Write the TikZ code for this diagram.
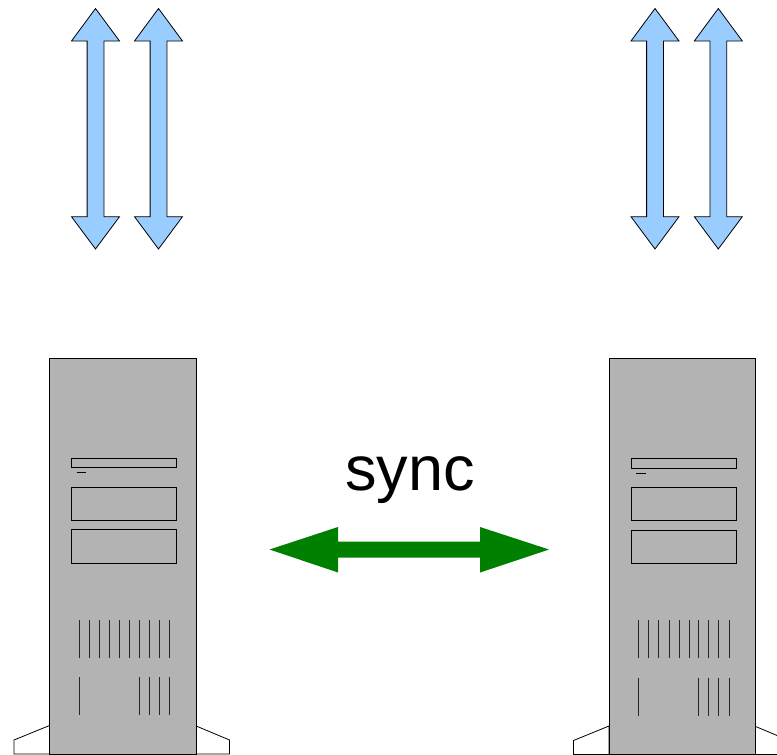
\documentclass[tikz,border=0pt]{standalone}
\usepackage{fontspec}
\setmainfont{Liberation Sans}
\definecolor{arrowblue}{HTML}{99CCFF}
\definecolor{casegray}{HTML}{B3B3B3}
\definecolor{syncgreen}{HTML}{008000}
\tikzset{
  blueline/.style={draw=black,fill=arrowblue,line width=0.8pt,line join=miter},
  caseline/.style={draw=black,line width=0.8pt},
  casebody/.style={caseline,fill=casegray},
  footline/.style={caseline,fill=white},
  vent/.style={draw=black!85,line width=1pt},
  synclabel/.style={anchor=base,inner sep=0pt,font=\fontsize{63}{70}\selectfont}
}
\begin{document}
\begin{tikzpicture}[x=1pt,y=-1pt]
     % Page size
     \clip (0,0) rectangle (777,755);
     % Definitions
     \def\headw{24}
     \def\shaftw{8.4}
     % Up and down arrows
     \foreach \x in {95.5,158.5,655,718.3} {
      \draw[blueline] (\x,8.5) -- (\x+\headw,41) -- (\x+\shaftw,41) -- (\x+\shaftw,216.7)
       -- (\x+\headw,216.7) -- (\x,249) -- (\x-\headw,216.7) -- (\x-\shaftw,216.7)
       -- (\x-\shaftw,41) -- (\x-\headw,41) -- cycle;
     };
     % Servers
     \foreach \dx/\dy in {0/0,559.5/0.5} {
      \begin{scope}[shift={(\dx,\dy)}]
       % Feet
       \draw[footline] (49.5,725.5) -- (14,740) -- (14,754) -- (49.5,754) -- cycle;
       \draw[footline] (195,725.5) -- (229.5,740) -- (229.5,754) -- (195,754) -- cycle;
       % Case, slot and bays
       \draw[casebody] (49.5,358) rectangle (196,754);
       \draw[caseline] (71.5,458.3) rectangle (176.5,467.7);
       \draw[caseline] (76.5,472.5) -- (86,472.5);
       \draw[caseline] (71.5,487) rectangle (176.5,520);
       \draw[caseline] (71.5,529.5) rectangle (176.5,563);
       % Vents
       \foreach \x in {79,89.3,99.3,109.5,119.7,129.7,139.3,149.3,159.3,169.5} {
        \draw[vent] (\x,619.5) -- (\x,657.5);
       };
       \foreach \x in {79,139.3,149.3,159.3,169.5} {
        \draw[vent] (\x,677) -- (\x,715);
       };
      \end{scope}
     };
     % Sync arrow and label
     \fill[syncgreen] (269.5,549.5) -- (338,527) -- (338,541.5) -- (480,541.5) -- (480,527)
      -- (549,549.5) -- (480,572.5) -- (480,557.5) -- (338,557.5) -- (338,572.5) -- cycle;
     \node[synclabel] (synctext) at (410.2,490) {sync};
\end{tikzpicture}
\end{document}
